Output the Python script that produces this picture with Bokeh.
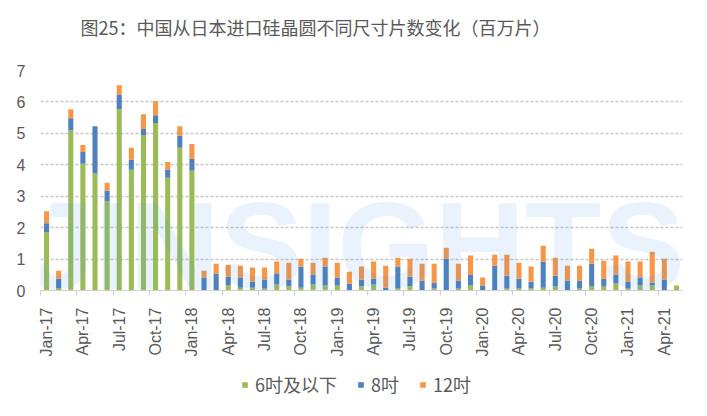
import math
import pandas as pd
from bokeh.plotting import figure
from bokeh.layouts import column
from bokeh.models import FixedTicker, Legend, LegendItem, ColumnDataSource, Range1d
from bokeh.core.properties import value
from bokeh.embed import file_html
from bokeh.resources import INLINE

# ---- data (million wafers) ----
months = [d.strftime("%b-%y") for d in pd.date_range("2017-01-01", "2021-05-01", freq="MS")]

small = [1.86, 0.08, 5.10, 4.03, 3.72, 2.83, 5.77, 3.84, 4.95, 5.33, 3.59, 4.54,
         3.81, 0.00, 0.00, 0.16, 0.09, 0.09, 0.06, 0.19, 0.13, 0.09, 0.19, 0.16,
         0.16, 0.00, 0.13, 0.19, 0.00, 0.06, 0.13, 0.00, 0.06, 0.00, 0.06, 0.16,
         0.00, 0.00, 0.06, 0.06, 0.06, 0.09, 0.13, 0.00, 0.06, 0.13, 0.13, 0.22,
         0.06, 0.16, 0.16, 0.00, 0.16]
mid = [0.28, 0.29, 0.38, 0.38, 1.51, 0.35, 0.47, 0.32, 0.19, 0.25, 0.25, 0.38,
       0.38, 0.41, 0.54, 0.28, 0.32, 0.19, 0.29, 0.35, 0.22, 0.67, 0.32, 0.60,
       0.25, 0.22, 0.22, 0.19, 0.09, 0.70, 0.31, 0.32, 0.19, 1.01, 0.26, 0.35,
       0.16, 0.79, 0.41, 0.32, 0.22, 0.83, 0.34, 0.32, 0.26, 0.72, 0.25, 0.29,
       0.22, 0.25, 0.09, 0.35, 0.00]
large = [0.38, 0.26, 0.29, 0.22, 0.00, 0.25, 0.29, 0.38, 0.47, 0.44, 0.25, 0.31,
         0.47, 0.22, 0.31, 0.38, 0.38, 0.45, 0.38, 0.38, 0.53, 0.25, 0.37, 0.28,
         0.47, 0.38, 0.41, 0.54, 0.70, 0.28, 0.57, 0.53, 0.60, 0.35, 0.53, 0.60,
         0.25, 0.35, 0.67, 0.50, 0.48, 0.50, 0.57, 0.47, 0.47, 0.48, 0.57, 0.60,
         0.64, 0.51, 0.98, 0.66, 0.00]

series_names = ["6吋及以下", "8吋", "12吋"]
colors = ["#9BBB59", "#4F81BD", "#F79646"]
title_text = "图25：中国从日本进口硅晶圆不同尺寸片数变化（百万片）"
watermark = "JINSIGHTS"
y_ticks = [0, 1, 2, 3, 4, 5, 6, 7]

n = len(months)
xs = list(range(n))
src = ColumnDataSource(dict(x=xs, month=months, s=small, m=mid, l=large))

W = 707
TH = 50

# ---- title strip ----
tf = figure(width=W, height=TH, output_backend="svg", toolbar_location=None,
            x_range=Range1d(0, W), y_range=Range1d(0, TH),
            x_axis_location=None, y_axis_location=None,
            min_border_left=0, min_border_right=0, min_border_top=0, min_border_bottom=0)
tf.grid.visible = False
tf.outline_line_color = None
tf.text(x=[44], y=[TH - 26], text=[title_text], text_font=value("Noto Sans CJK SC"),
        text_font_size="18px", text_color="#595959", text_align="left",
        text_baseline="middle")

# ---- main chart ----
p = figure(width=W, height=310, output_backend="svg", toolbar_location=None,
           x_range=Range1d(-0.5, n - 0.5), y_range=Range1d(0, 7),
           min_border_left=40, min_border_right=25, min_border_top=20, min_border_bottom=70)
p.outline_line_color = None
p.background_fill_color = "white"
p.border_fill_color = "white"

renderers = p.vbar_stack(["s", "m", "l"], x="x", width=0.42, color=colors,
                         line_color=None, source=src)

# watermark
p.text(x=[25.45], y=[1.42], text=[watermark], text_font=value("Liberation Sans"),
       text_font_style="bold", text_font_size="125px", text_color="#2d87eb",
       text_alpha=0.1, text_align="center", text_baseline="alphabetic")

tick_idx = list(range(0, n, 3))
p.xaxis.ticker = FixedTicker(ticks=tick_idx, minor_ticks=[i - 0.5 for i in tick_idx])
p.xaxis.major_label_overrides = {i: months[i] for i in tick_idx}
p.xaxis.major_label_orientation = math.pi / 2
p.xaxis.major_tick_out = 0
p.xaxis.major_tick_in = 0
p.xaxis.minor_tick_out = 5
p.xaxis.minor_tick_in = 0
p.xaxis.minor_tick_line_color = "#d0d0d0"
p.xaxis.axis_line_color = "#d0d0d0"
p.xaxis.major_label_standoff = 12
p.xaxis.major_label_text_font = "Liberation Sans"
p.xaxis.major_label_text_font_size = "16px"
p.xaxis.major_label_text_color = "#595959"
p.xgrid.grid_line_color = None

p.yaxis.ticker = FixedTicker(ticks=y_ticks)
p.yaxis.axis_line_color = None
p.yaxis.major_tick_line_color = None
p.yaxis.minor_tick_line_color = None
p.yaxis.major_tick_out = 0
p.yaxis.major_tick_in = 0
p.yaxis.major_label_standoff = 15
p.yaxis.major_label_text_font = "Liberation Sans"
p.yaxis.major_label_text_font_size = "16px"
p.yaxis.major_label_text_color = "#595959"
p.ygrid.ticker = FixedTicker(ticks=y_ticks[1:])
p.ygrid.grid_line_color = "#c6c6c6"
p.ygrid.grid_line_dash = "3 2"
p.ygrid.grid_line_width = 1.3

# ---- legend strip ----
lf = figure(width=W, height=48, output_backend="svg", toolbar_location=None,
            x_range=Range1d(0, 1), y_range=Range1d(0, 1),
            x_axis_location=None, y_axis_location=None,
            min_border_left=0, min_border_right=0, min_border_top=0, min_border_bottom=0)
lf.grid.visible = False
lf.outline_line_color = None
swatches = [lf.rect(x=[-5], y=[-5], width=0.1, height=0.1, fill_color=c, line_color=None)
            for c in colors]
legend = Legend(items=[LegendItem(label=nm, renderers=[r]) for nm, r in zip(series_names, swatches)],
                orientation="horizontal", location="center_left",
                border_line_color=None, background_fill_alpha=0,
                label_text_font="Noto Sans CJK SC", label_text_font_size="18px",
                label_text_color="#595959", glyph_width=7, glyph_height=7,
                label_standoff=7, spacing=20, padding=0, margin=201)
lf.add_layout(legend)

layout = column(tf, p, lf, spacing=0)
open("out.html", "w").write(file_html(layout, INLINE))
